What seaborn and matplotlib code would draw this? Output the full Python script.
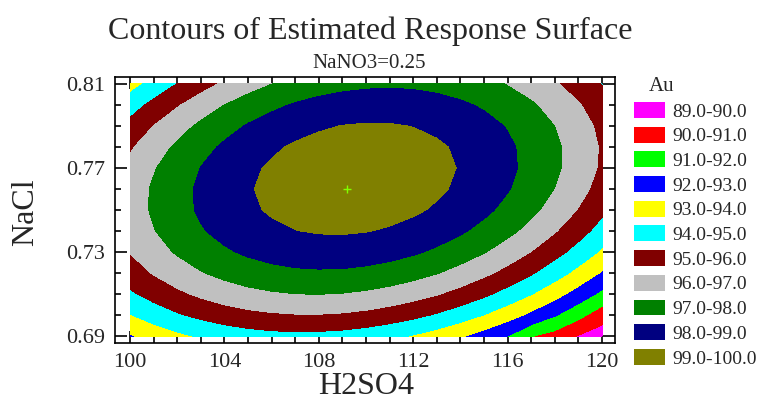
import matplotlib
matplotlib.use("Agg")
import matplotlib.pyplot as plt
from matplotlib.patches import Patch
import seaborn as sns

# Grid of the estimated response (Au), NaNO3 fixed at 0.25
h2so4 = list(range(100, 121))
nacl = [0.69, 0.70, 0.71, 0.72, 0.73, 0.74, 0.75, 0.76, 0.77, 0.78, 0.79, 0.80, 0.81]
au = [
    [92.91, 93.39, 93.79, 94.12, 94.38, 94.58, 94.70, 94.75, 94.73, 94.64, 94.47,
     94.24, 93.93, 93.56, 93.11, 92.60, 92.01, 91.05, 90.62, 89.95, 89.50],
    [93.96, 94.46, 94.89, 95.24, 95.53, 95.74, 95.88, 95.95, 95.96, 95.89, 95.75,
     95.53, 95.25, 94.90, 94.48, 93.98, 93.42, 92.78, 92.08, 91.30, 90.45],
    [94.84, 95.36, 95.80, 96.18, 96.49, 96.73, 96.89, 96.99, 97.01, 96.96, 96.84,
     96.65, 96.39, 96.06, 95.66, 95.19, 94.64, 94.03, 93.35, 92.59, 91.76],
    [95.53, 96.07, 96.54, 96.94, 97.27, 97.53, 97.71, 97.83, 97.87, 97.85, 97.75,
     97.59, 97.35, 97.04, 96.66, 96.21, 95.69, 95.10, 94.43, 93.70, 92.90],
    [96.04, 96.61, 97.10, 97.52, 97.87, 98.15, 98.36, 98.50, 98.56, 98.56, 98.48,
     98.34, 98.12, 97.84, 97.48, 97.05, 96.55, 95.98, 95.34, 94.63, 93.85],
    [96.37, 96.96, 97.47, 97.92, 98.29, 98.59, 98.82, 98.98, 99.07, 99.09, 99.03,
     98.91, 98.72, 98.46, 98.12, 97.72, 97.24, 96.69, 96.07, 95.38, 94.62],
    [96.52, 97.13, 97.66, 98.13, 98.52, 98.85, 99.10, 99.28, 99.39, 99.43, 99.40,
     99.30, 99.13, 98.89, 98.58, 98.20, 97.74, 97.22, 96.62, 95.95, 95.21],
    [96.49, 97.12, 97.67, 98.16, 98.58, 98.93, 99.20, 99.41, 99.54, 99.60, 99.59,
     99.51, 99.36, 99.14, 98.85, 98.49, 98.06, 97.56, 96.98, 96.34, 95.62],
    [96.27, 96.93, 97.51, 98.02, 98.45, 98.82, 99.12, 99.35, 99.50, 99.59, 99.60,
     99.55, 99.42, 99.22, 98.95, 98.61, 98.20, 97.72, 97.17, 96.55, 95.85],
    [95.88, 96.56, 97.16, 97.69, 98.15, 98.54, 98.86, 99.11, 99.28, 99.39, 99.43,
     99.40, 99.29, 99.12, 98.87, 98.55, 98.16, 97.70, 97.17, 96.57, 95.90],
    [95.31, 96.01, 96.63, 97.18, 97.66, 98.08, 98.42, 98.69, 98.89, 99.02, 99.07,
     99.06, 98.98, 98.83, 98.60, 98.31, 97.94, 97.50, 96.99, 96.41, 95.76],
    [94.55, 95.27, 95.91, 96.49, 97.00, 97.43, 97.79, 98.09, 98.31, 98.46, 98.54,
     98.55, 98.49, 98.36, 98.15, 97.88, 97.54, 97.12, 96.63, 96.08, 95.45],
    [93.61, 94.35, 95.02, 95.62, 96.15, 96.61, 96.99, 97.31, 97.55, 97.72, 97.82,
     97.86, 97.82, 97.71, 97.53, 97.28, 96.95, 96.56, 96.10, 95.57, 94.96],
]

# optimum marker
opt_x = [109.2]
opt_y = [0.760]

levels = [89, 90, 91, 92, 93, 94, 95, 96, 97, 98, 99, 100]
level_labels = ["89.0-90.0", "90.0-91.0", "91.0-92.0", "92.0-93.0", "93.0-94.0",
                "94.0-95.0", "95.0-96.0", "96.0-97.0", "97.0-98.0", "98.0-99.0",
                "99.0-100.0"]
colors = ["#FF00FF", "#FF0000", "#00FF00", "#0000FF", "#FFFF00", "#00FFFF",
          "#800000", "#C0C0C0", "#008000", "#000080", "#808000"]

x_major = [100, 104, 108, 112, 116, 120]
y_major = [0.69, 0.73, 0.77, 0.81]

sns.set_style("ticks", {"xtick.direction": "in", "ytick.direction": "in"})
plt.rcParams["font.family"] = ["Liberation Serif", "DejaVu Serif"]

fig = plt.figure(figsize=(7.69, 4.13), dpi=100)
ax = fig.add_axes([115/769, 70/413, 500/769, 266/413])

ax.contourf(h2so4, nacl, au, levels=levels, colors=colors)
sns.scatterplot(x=opt_x, y=opt_y, marker="+", color="#80FF00", s=40,
                linewidth=1, ax=ax, zorder=5)

ax.set_xlim(99.36, 120.55)
ax.set_ylim(0.6867, 0.8133)
ax.set_xticks(x_major)
ax.set_xticks(h2so4, minor=True)
ax.set_yticks(y_major)
ax.set_yticks(nacl, minor=True)
ax.set_xticklabels([str(v) for v in x_major])
ax.set_yticklabels([f"{v:.2f}" for v in y_major])
ax.tick_params(which="both", direction="in", top=True, right=True,
               width=1.2, color="black", labelsize=16, pad=7)
ax.tick_params(which="major", length=8.5)
ax.tick_params(which="minor", length=4.5)
for sp in ax.spines.values():
    sp.set_linewidth(1.2)
    sp.set_color("black")

ax.set_xlabel("H2SO4", fontsize=23)
ax.xaxis.set_label_coords(0.502, -0.11)
ax.set_ylabel("NaCl", fontsize=23)
ax.yaxis.set_label_coords(-0.15, 0.4925)

fig.text(370/769, 1 - 39/413, "Contours of Estimated Response Surface",
         fontsize=23, ha="center", va="baseline")
fig.text(369/769, 1 - 68/413, "NaNO3=0.25", fontsize=15,
         ha="center", va="baseline")

handles = [Patch(facecolor=c, edgecolor="none") for c in colors]
fig.legend(handles, level_labels, loc="upper left",
           bbox_to_anchor=(634/769, 1 - 102/413), frameon=False,
           fontsize=14, handlelength=1.6, handleheight=0.88,
           handletextpad=0.36, labelspacing=0.31, borderpad=0,
           borderaxespad=0)
fig.text(649/769, 1 - 91/413, "Au", fontsize=15, ha="left", va="baseline")

fig.savefig("out.png", dpi=100)
